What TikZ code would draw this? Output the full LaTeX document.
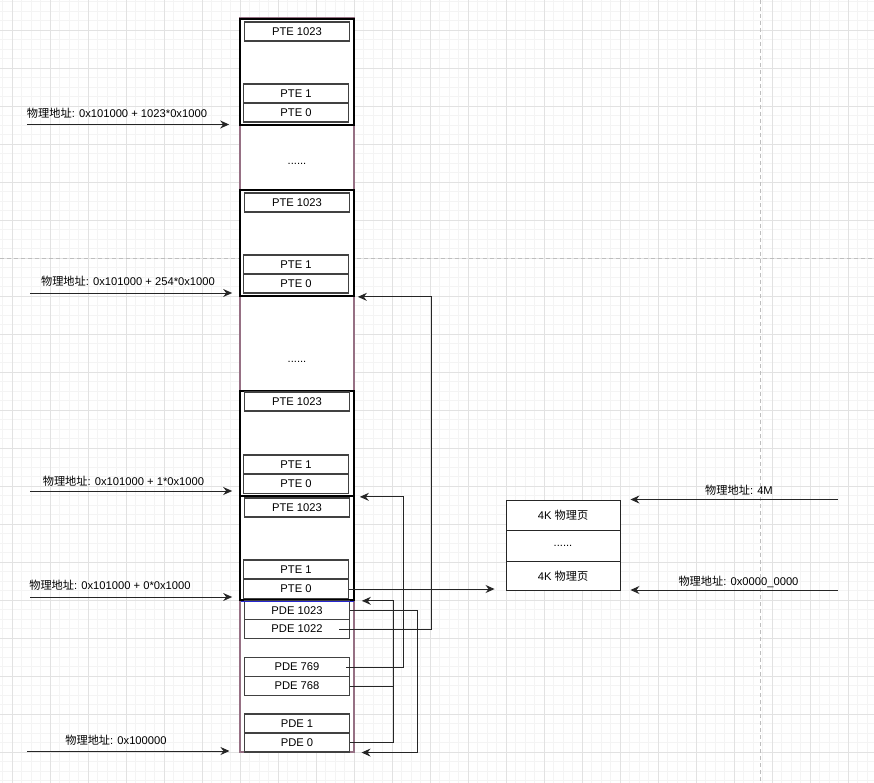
\documentclass[tikz,border=0pt]{standalone}
\usepackage{fontspec}
\setmainfont{Liberation Sans}
\newfontfamily\cjkfont{Noto Sans CJK SC}
\usetikzlibrary{arrows.meta}
\newcommand{\zh}[1]{{\cjkfont #1}}

\definecolor{gridminor}{RGB}{244,244,244}
\definecolor{gridmajor}{RGB}{226,226,226}
\definecolor{pagebreakgray}{RGB}{190,190,190}
\definecolor{framemauve}{RGB}{150,112,132}
\definecolor{cellline}{RGB}{65,65,65}
\definecolor{pdeblue}{RGB}{40,40,210}

\begin{document}
\begin{tikzpicture}[x=1pt,y=-1pt,
  txt/.style={font=\fontsize{11.2}{13}\selectfont, inner sep=0pt},
  tableblock/.style={draw=black, line width=1.7pt, fill=white, minimum width=114pt, inner sep=0pt},
  cell/.style={draw=cellline, line width=1.2pt, fill=white, minimum width=105pt,
    minimum height=19pt, inner sep=0pt, font=\fontsize{11.2}{13}\selectfont},
  pagecell/.style={draw=black!85, line width=0.9pt, fill=white, minimum width=114pt,
    inner sep=0pt, font=\fontsize{11.2}{13}\selectfont},
  link/.style={draw=black!85, line width=1pt},
  arr/.style={link, -{Stealth[length=9pt,width=8pt,inset=3pt]}},
  pagebreak/.style={draw=pagebreakgray, line width=0.8pt, dash pattern=on 4pt off 3pt},
]

% canvas and background grid
\fill[white] (0,0) rectangle (874,783);
\useasboundingbox (0,0) rectangle (874,783);
\foreach \i in {0,...,91} {\draw[gridminor, line width=0.8pt] ({2.5+9.5*\i},0) -- ++(0,783);}
\foreach \i in {0,...,82} {\draw[gridminor, line width=0.8pt] (0,{1.8+9.5*\i}) -- ++(874,0);}
\foreach \i in {0,...,22} {\draw[gridmajor, line width=0.8pt] ({12+38*\i},0) -- ++(0,783);}
\foreach \i in {0,...,21} {\draw[gridmajor, line width=0.8pt] (0,{-7.7+38*\i}) -- ++(874,0);}

% page break guides
\draw[pagebreak] (0,258) -- (874,258);
\draw[pagebreak] (760,0) -- (760,783);

% memory column
\node[draw=framemauve, fill=white, line width=1.1pt, minimum width=114pt,
      minimum height=734pt, inner sep=0pt] (pdtable) at (297,385) {};

% page tables
\node[tableblock, minimum height=106pt] (blk1) at (297,72) {};
\node[tableblock, minimum height=106pt] (blk2) at (297,243) {};
\node[tableblock, minimum height=105pt] (blk3) at (297,443.5) {};
\node[tableblock, minimum height=104pt] (blk4) at (297,548) {};

\node[cell] (b1top)  at (297,31.5)  {PTE 1023};
\node[cell] (b1one)  at (296,93.5)  {PTE 1};
\node[cell] (b1zero) at (296,112.5) {PTE 0};

\node[cell] (b2top)  at (297,202.5) {PTE 1023};
\node[cell] (b2one)  at (296,264.5) {PTE 1};
\node[cell] (b2zero) at (296,283.5) {PTE 0};

\node[cell] (b3top)  at (297,401.5) {PTE 1023};
\node[cell] (b3one)  at (296,464.5) {PTE 1};
\node[cell] (b3zero) at (296,484)   {PTE 0};

\node[cell] (b4top)  at (297,507.5) {PTE 1023};
\node[cell] (b4one)  at (296,569.5) {PTE 1};
\node[cell] (b4zero) at (296,589)   {PTE 0};

\node[txt] (gap1) at (297,163.5) {......};
\node[txt] (gap2) at (297,361.5) {......};

% page directory
\node[cell] (pde1023) at (297,610.5) {PDE 1023};
\node[cell] (pde1022) at (297,629)   {PDE 1022};
\node[cell] (pde769)  at (297,667)   {PDE 769};
\node[cell] (pde768)  at (297,686)   {PDE 768};
\node[cell] (pde1)    at (297,723.5) {PDE 1};
\node[cell] (pde0)    at (297,742.5) {PDE 0};
\draw[pdeblue, line width=1.1pt] (240.5,601.3) -- (353.5,601.3);

% physical pages
\node[pagecell, minimum height=30pt]   (pgtop)  at (563,515)    {4K \zh{物理页}};
\node[pagecell, minimum height=31.7pt] (pgdots) at (563,545.85) {......};
\node[pagecell, minimum height=28.3pt] (pg0)    at (563,575.85) {4K \zh{物理页}};

% address labels on the left
\coordinate (a1) at (27,124.5);
\coordinate (a2) at (30,293);
\coordinate (a3) at (30,491);
\coordinate (a4) at (30,597);
\coordinate (a5) at (27,751);
\coordinate (e1) at ([xshift=-10pt]blk1.south west);
\coordinate (e2) at ([xshift=-7pt]blk2.south west);
\coordinate (e3) at ([xshift=-7pt]blk3.south west);
\coordinate (e4) at ([xshift=-7pt]blk4.south west);
\coordinate (e5) at ([xshift=-10pt]pdtable.south west);
\draw[arr] (a1) -- (a1 -| e1);
\draw[arr] (a2) -- (a2 -| e2);
\draw[arr] (a3) -- (a3 -| e3);
\draw[arr] (a4) -- (a4 -| e4);
\draw[arr] (a5) -- (a5 -| e5);
\node[txt] (t1) at (117,113)   {\zh{物理地址}: 0x101000 + 1023*0x1000};
\node[txt] (t2) at (128,281)   {\zh{物理地址}: 0x101000 + 254*0x1000};
\node[txt] (t3) at (123.5,481) {\zh{物理地址}: 0x101000 + 1*0x1000};
\node[txt] (t4) at (110,585)   {\zh{物理地址}: 0x101000 + 0*0x1000};
\node[txt] (t5) at (116,740)   {\zh{物理地址}: 0x100000};

% address labels on the right
\coordinate (r1) at (838,499.5);
\coordinate (r2) at (838,590);
\coordinate (f1) at ([xshift=10pt]pgtop.north east);
\coordinate (f2) at ([xshift=10pt]pg0.south east);
\draw[arr] (r1) -- (r1 -| f1);
\draw[arr] (r2) -- (r2 -| f2);
\node[txt] (t6) at (739,490.5) {\zh{物理地址}: 4M};
\node[txt] (t7) at (738.5,582) {\zh{物理地址}: 0x0000\_0000};

% PTE 0 maps the first physical page
\coordinate (pgin) at ([xshift=-11pt]pg0.south west);
\draw[arr] (b4zero.east) -- (b4zero.east -| pgin);

% directory entries pointing at their page tables
\draw[arr] (pde0.east) -- ++(43,0) |- ([xshift=7pt]blk4.south east);
\draw[link] (pde768.east) -- ++(43,0);
\draw[arr] ([xshift=-4pt]pde769.east) -- ++(57,0) |- ([xshift=5pt]blk3.south east);
\draw[arr] ([xshift=-11pt]pde1022.east) -- ++(92,0) |- ([xshift=3pt]blk2.south east);
\draw[arr] (pde1023.east) -- ++(67,0) |- ([xshift=7pt]pdtable.south east);

\end{tikzpicture}
\end{document}
